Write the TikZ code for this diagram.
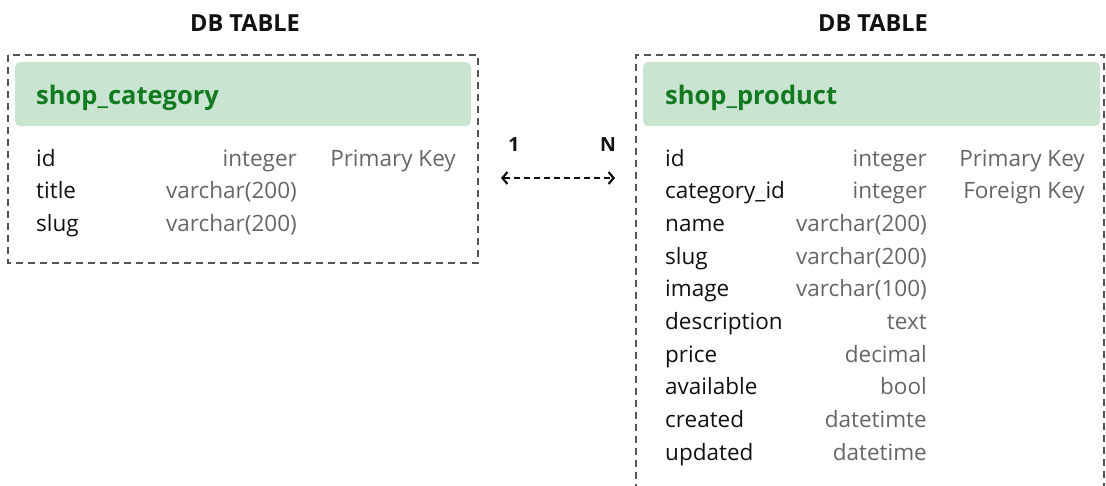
\documentclass[tikz,border=0pt]{standalone}
\usepackage{fontspec}
\setmainfont{Open Sans}
\usetikzlibrary{arrows.meta}
\definecolor{hdrfill}{HTML}{C9E4D1}
\definecolor{hdrtext}{HTML}{137A22}
\definecolor{typegray}{HTML}{666666}
\definecolor{namecol}{HTML}{111111}
\definecolor{dashcol}{HTML}{555555}
\begin{document}
\begin{tikzpicture}[x=1pt,y=-1pt,
  title/.style={font=\fontsize{23.5}{28}\selectfont\bfseries, text=namecol, anchor=base},
  frame/.style={draw=dashcol, line width=1.3pt, dash pattern=on 7pt off 5pt},
  hdr/.style={fill=hdrfill, rounded corners=5pt},
  hdrlabel/.style={font=\fontsize{25.5}{30}\selectfont\bfseries, text=hdrtext, anchor=base west, inner sep=0pt},
  fname/.style={font=\fontsize{22.5}{27}\selectfont, text=namecol, anchor=base west, inner sep=0pt},
  ftype/.style={font=\fontsize{22.5}{27}\selectfont, text=typegray, anchor=base east, inner sep=0pt},
  card/.style={font=\fontsize{19.5}{23}\selectfont\bfseries, text=namecol, anchor=base, inner sep=0pt}
]
\useasboundingbox (0,0) rectangle (1106,485);
% titles
\node[title] (t1) at (245,31) {DB TABLE};
\node[title] (t2) at (873,31) {DB TABLE};
% left table
\draw[frame] (8,55) rectangle (478,263);
\fill[hdr] (15,62) rectangle (471,126);
\node[hdrlabel] (h1) at (36,104) {shop\_category};
\node[fname] (l1) at (36,166) {id};
\node[ftype] (l1t) at (297,166) {integer};
\node[ftype] (l1k) at (456,166) {Primary Key};
\node[fname] (l2) at (36,198.7) {title};
\node[ftype] (l2t) at (297,198.7) {varchar(200)};
\node[fname] (l3) at (36,231.4) {slug};
\node[ftype] (l3t) at (297,231.4) {varchar(200)};
% right table
\draw[frame] (1104,490) -- (1104,55) -- (636,55) -- (636,490);
\fill[hdr] (643,62) rectangle (1100,126);
\node[hdrlabel] (h2) at (665,104) {shop\_product};
\foreach \n/\t/\i in {id/integer/0, category\_id/integer/1, name/varchar(200)/2, slug/varchar(200)/3, image/varchar(100)/4, description/text/5, price/decimal/6, available/bool/7, created/datetimte/8, updated/datetime/9}{
  \node[fname] (r\i) at (665,166+32.7*\i) {\n};
  \node[ftype] (rt\i) at (927,166+32.7*\i) {\t};
}
\node[ftype] (rk0) at (1085,166) {Primary Key};
\node[ftype] (rk1) at (1085,198.7) {Foreign Key};
% relation
\node[card] (c1) at (514,151) {1};
\node[card] (cN) at (608,151) {N};
\coordinate (a1) at (501,178);
\coordinate (a2) at (615,178);
\draw[namecol, line width=2.3pt, dash pattern=on 6pt off 4pt, {Straight Barb[length=5pt,width=12pt,line width=2.2pt]}-{Straight Barb[length=5pt,width=12pt,line width=2.2pt]}] (a1) -- (a2);
\end{tikzpicture}
\end{document}
